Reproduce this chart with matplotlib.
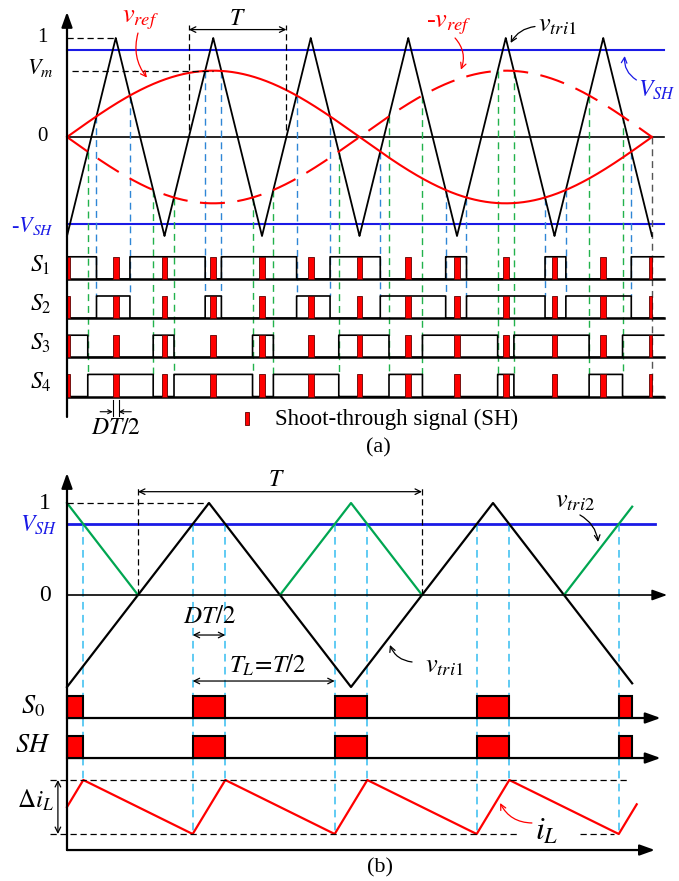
import numpy as np
import matplotlib.pyplot as plt
from matplotlib.patches import Rectangle

plt.rcParams['font.family'] = ['Liberation Serif', 'DejaVu Serif']
plt.rcParams['mathtext.fontset'] = 'stix'

# ---------------- data, panel (a) ----------------
TRI_A = [-1, 1, -1, 1, -1, 1, -1, 1, -1, 1, -1, 1, -1]   # carrier vertices, one every T/2
M_A = 0.67          # V_m, peak of v_ref
VSH_A = 0.88        # shoot-through level
REF_CYCLES = 6      # carrier periods in one v_ref cycle
ROWS_A = ['$S_1$', '$S_2$', '$S_3$', '$S_4$']

# ---------------- data, panel (b) ----------------
TRI_B = [-1, 1, -1, 1, -1]   # v_tri1 vertices, one every T/2
VSH_B = 0.77
T_END_B = 1.99      # carriers stop here
IL_END = 2.006      # i_L trace stops here
ROWS_B = ['$S_{\\mathit{0}}$', '$SH$']

RED = '#ff0000'
BLUE = '#1a1ae6'
DBLUE = '#2f86d6'
LBLUE = '#35bdf0'
GREEN_D = '#22b24c'
GREEN = '#00a651'


def intervals(t, mask):
    # (start, end) of each run where mask is True
    m = np.concatenate([[0], mask.astype(int), [0]])
    d = np.diff(m)
    starts = np.where(d == 1)[0]
    ends = np.where(d == -1)[0] - 1
    return [(t[s], t[e]) for s, e in zip(starts, ends)]


def crossings(t, a, b):
    d = a - b
    idx = np.where(np.sign(d[:-1]) * np.sign(d[1:]) < 0)[0]
    out = []
    for i in idx:
        tc = t[i] - d[i] * (t[i + 1] - t[i]) / (d[i + 1] - d[i])
        out.append((tc, np.interp(tc, t, b)))
    return out


def rising_zeros(tv, vals):
    out = []
    for i in range(len(vals) - 1):
        if vals[i] < 0 < vals[i + 1]:
            out.append(tv[i] + (tv[i + 1] - tv[i]) * (-vals[i]) / (vals[i + 1] - vals[i]))
    return out


def arrow(ax, p0, p1, style, lw=1.0, color='k', rad=0.0, ms=10):
    ax.annotate('', xy=p1, xytext=p0, annotation_clip=False,
                arrowprops=dict(arrowstyle=style, lw=lw, color=color, shrinkA=0, shrinkB=0,
                                mutation_scale=ms, connectionstyle=f'arc3,rad={rad}'))


AXHEAD = '-|>,head_length=0.75,head_width=0.27'

fig = plt.figure(figsize=(6.79, 8.81), dpi=100)

# =========================== (a) ===========================
ax = fig.add_axes([0, 421 / 881, 1, 460 / 881])
ax.set_xlim(-0.6872, 6.2769)
ax.set_ylim(-3.2626, 1.3838)
ax.axis('off')

tv = np.arange(len(TRI_A)) * 0.5
t = np.linspace(0, tv[-1], 12001)
tri = np.interp(t, tv, TRI_A)
vref = M_A * np.sin(2 * np.pi * t / REF_CYCLES)

row_base = [-1.434 - 0.396 * i for i in range(4)]
row_h = 0.224
x_right = 6.12

ax.plot([0, x_right], [0, 0], color='k', lw=1.2)
for s in (1, -1):
    ax.plot([0, x_right], [s * VSH_A] * 2, color=BLUE, lw=1.5)

for tc, yc in crossings(t, vref, tri):
    ax.plot([tc, tc], [yc, row_base[1] + row_h], color=DBLUE, lw=1.0, dashes=(5, 3.5))
for tc, yc in crossings(t, -vref, tri):
    ax.plot([tc, tc], [yc, row_base[3] + row_h], color=GREEN_D, lw=1.0, dashes=(5, 3.5))
ax.plot([tv[-1]] * 2, [0, row_base[3]], color='#555555', lw=1.0, dashes=(5, 3.5))

ax.plot(t, tri, color='k', lw=1.3)
ax.plot(t, vref, color=RED, lw=1.5)
ax.plot(t, -vref, color=RED, lw=1.5, dashes=(12, 6))

# level markers and T
ax.plot([0, 0.5], [1, 1], color='k', lw=0.9, dashes=(5, 3))
ax.plot([0.05, 1.5], [M_A, M_A], color='k', lw=0.9, dashes=(5, 3))
zc = rising_zeros(tv, TRI_A)[1:3]
for tc in zc:
    ax.plot([tc, tc], [0.07, 1.13], color='k', lw=0.9, dashes=(5, 3))
arrow(ax, (zc[0], 1.085), (zc[1], 1.085), '<->', lw=0.9)
ax.text(sum(zc) / 2, 1.19, '$T$', fontsize=17, ha='center', va='center')

# switching rows
sigs = [vref > tri, vref < tri, -vref > tri, -vref < tri]
sh = np.abs(tri) > VSH_A
sh_int = intervals(t, sh)
for base, sig, name in zip(row_base, sigs, ROWS_A):
    ts = np.append(t, x_right)
    ys = base + row_h * np.append(sig, sig[-1]).astype(float)
    ax.plot(ts, ys, color='k', lw=1.2, drawstyle='steps-post')
    ax.plot([0, x_right], [base, base], color='k', lw=1.8)
    for a, b in sh_int:
        ax.add_patch(Rectangle((a, base), b - a, row_h, fc=RED, ec='#600000', lw=0.6, zorder=3))
    ax.text(-0.27, base + row_h * 0.62, name, fontsize=17, ha='center', va='center')

arrow(ax, (0, -2.828), (0, 1.263), AXHEAD, lw=1.6, ms=12)

# labels
ax.text(-0.256, 1.0, '1', fontsize=15, ha='center', va='center')
ax.text(-0.277, 0.70, '$V_m$', fontsize=16, ha='center', va='center')
ax.text(-0.256, 0.0, '0', fontsize=15, ha='center', va='center')
ax.text(-0.36, -0.90, '-$V_{SH}$', fontsize=16, ha='center', va='center', color=BLUE)
ax.text(0.75, 1.18, '$v_{ref}$', fontsize=19, ha='center', va='center', color=RED)
arrow(ax, (0.728, 1.05), (0.82, 0.60), '->', lw=0.9, color=RED, rad=0.25)
ax.text(3.92, 1.13, '-$v_{ref}$', fontsize=19, ha='center', va='center', color=RED)
arrow(ax, (3.98, 1.0), (4.04, 0.68), '->', lw=0.9, color=RED, rad=-0.3)
ax.text(4.83, 1.12, '$v_{tri\\mathrm{1}}$', fontsize=19, ha='left', va='center')
arrow(ax, (4.8, 1.116), (4.55, 0.95), '->', lw=0.9, rad=0.25)
ax.text(5.86, 0.47, '$V_{SH}$', fontsize=17, ha='left', va='center', color=BLUE)
arrow(ax, (5.84, 0.576), (5.72, 0.818), '->', lw=0.9, color=BLUE, rad=-0.3)

# DT/2 marker
a0, b0 = sh_int[1]
for x in (a0, b0):
    ax.plot([x, x], [-2.66, -2.82], color='k', lw=0.8)
arrow(ax, (a0 - 0.13, -2.775), (a0, -2.775), '->', lw=0.8, ms=7)
arrow(ax, (b0 + 0.13, -2.775), (b0, -2.775), '->', lw=0.8, ms=7)
ax.text(0.5, -2.94, '$DT/2$', fontsize=17, ha='center', va='center')

# legend
ax.add_patch(Rectangle((1.826, -2.91), 0.041, 0.13, fc=RED, ec='#600000', lw=0.6))
ax.text(2.133, -2.85, 'Shoot-through signal (SH)', fontsize=16.5, ha='left', va='center')
ax.text(3.19, -3.14, '(a)', fontsize=16, ha='center', va='center')

# =========================== (b) ===========================
bx = fig.add_axes([0, 0, 1, 421 / 881])
bx.set_xlim(-0.2359, 2.1549)
bx.set_ylim(-3.1087, 1.4674)
bx.axis('off')

tvb = np.arange(len(TRI_B)) * 0.5
tb = np.linspace(0, T_END_B, 8001)
tri1 = np.interp(tb, tvb, TRI_B)
tri2 = np.where(-tri1 >= 0, -tri1, np.nan)

rows_b = [-1.337, -1.772]
row_hb = 0.239
il_lo, il_hi = -2.598, -2.011

shb = intervals(tb, np.abs(tri1) > VSH_B)

# i_L: rises during shoot-through, falls otherwise
il_t, il_v = [], []
full = 2 * (1 - VSH_B) / 4
for a, b in shb:
    if a == 0:
        il_t.append(0.0)
        il_v.append(1 - (b - a) / full)
    else:
        il_t.append(a)
        il_v.append(0.0)
    if b < T_END_B - 1e-3:
        il_t.append(b)
        il_v.append(1.0)
    else:
        il_t.append(IL_END)
        il_v.append((IL_END - a) / full)
il_y = il_lo + np.array(il_v) * (il_hi - il_lo)

bx.plot([0, 2.07], [VSH_B, VSH_B], color=BLUE, lw=2.0)
arrow(bx, (0, 0), (2.113, 0), AXHEAD, lw=1.2, ms=12)

for a, b in shb:
    if a > 0:
        bx.plot([a, a], [VSH_B, il_lo], color=LBLUE, lw=1.1, dashes=(5, 3.5))
    if b < T_END_B - 1e-3:
        bx.plot([b, b], [VSH_B, il_hi], color=LBLUE, lw=1.1, dashes=(5, 3.5))

bx.plot(tb, tri1, color='k', lw=1.6)
bx.plot(tb, tri2, color=GREEN, lw=1.6)

bx.plot([0, 0.5], [1, 1], color='k', lw=0.9, dashes=(5, 3))
zb = rising_zeros(tvb, TRI_B)
for x in zb:
    bx.plot([x, x], [0, 1.163], color='k', lw=0.9, dashes=(5, 3))
arrow(bx, (zb[0], 1.123), (zb[1], 1.123), '<->', lw=0.9)
bx.text(0.739, 1.25, '$T$', fontsize=17, ha='center', va='center')

for base, name in zip(rows_b, ROWS_B):
    arrow(bx, (0, base), (2.09, base), AXHEAD, lw=1.6, ms=12)
    for a, b in shb:
        bx.add_patch(Rectangle((a, base), b - a, row_hb, fc=RED, ec='k', lw=1.5, zorder=3))
    bx.text(-0.12, base + row_hb * 0.55, name, fontsize=19, ha='center', va='center')

bx.plot(il_t, il_y, color=RED, lw=1.6)
bx.plot([-0.06, 1.98], [il_hi, il_hi], color='k', lw=0.9, dashes=(5, 3))
bx.plot([-0.06, 1.588], [il_lo, il_lo], color='k', lw=0.9, dashes=(5, 3))
bx.plot([1.806, 1.926], [il_lo, il_lo], color='k', lw=0.9, dashes=(5, 3))
arrow(bx, (-0.032, il_hi), (-0.032, il_lo), '<->', lw=0.9)
bx.text(-0.113, -2.23, '$\\Delta i_L$', fontsize=18, ha='center', va='center')
bx.text(1.69, -2.576, '$i_L$', fontsize=23, ha='center', va='center')
arrow(bx, (1.637, -2.478), (1.525, -2.261), '->', lw=0.9, color=RED, rad=-0.3)

arrow(bx, (0, -2.772), (0, 1.326), AXHEAD, lw=1.6, ms=12)
arrow(bx, (0, -2.772), (2.07, -2.772), AXHEAD, lw=1.6, ms=12)

bx.text(-0.077, 1.0, '1', fontsize=17, ha='center', va='center')
bx.text(-0.099, 0.76, '$V_{SH}$', fontsize=17, ha='center', va='center', color=BLUE)
bx.text(-0.077, 0.0, '0', fontsize=17, ha='center', va='center')

a1, b1 = shb[1]
bx.text((a1 + b1) / 2, -0.24, '$DT/2$', fontsize=18, ha='center', va='center')
arrow(bx, (a1, -0.435), (b1, -0.435), '<->', lw=0.9)
bx.text(0.708, -0.76, '$T_L\\!=\\!T/2$', fontsize=18, ha='center', va='center')
arrow(bx, (a1, -0.935), (shb[2][0], -0.935), '<->', lw=0.9)

bx.text(1.789, 1.01, '$v_{tri\\mathrm{2}}$', fontsize=19, ha='center', va='center')
arrow(bx, (1.806, 0.87), (1.87, 0.576), '->', lw=0.9, rad=-0.25)
bx.text(1.329, -0.78, '$v_{tri\\mathrm{1}}$', fontsize=19, ha='center', va='center')
arrow(bx, (1.215, -0.728), (1.137, -0.543), '->', lw=0.9, rad=-0.3)

bx.text(1.102, -2.967, '(b)', fontsize=16, ha='center', va='center')

fig.savefig('out.png', dpi=100)
